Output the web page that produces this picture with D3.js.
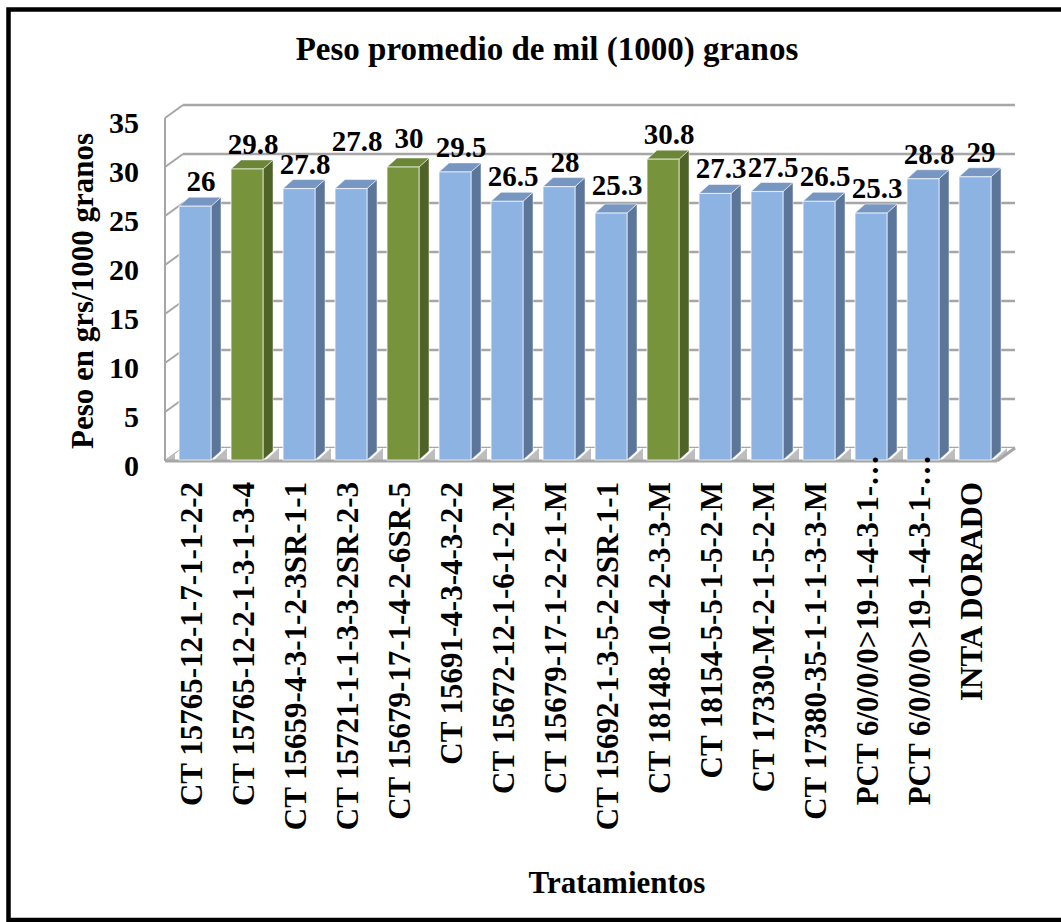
<!DOCTYPE html>
<html>
<head>
<meta charset="utf-8">
<script src="https://cdn.jsdelivr.net/npm/d3@7"></script>
<style>
  html, body { margin: 0; padding: 0; background: #fff; }
</style>
</head>
<body>
<script>
// Treatments (lines) on the category axis
const categories = [
  "CT 15765-12-1-7-1-1-2-2",
  "CT 15765-12-2-1-3-1-3-4",
  "CT 15659-4-3-1-2-3SR-1-1",
  "CT 15721-1-1-3-3-2SR-2-3",
  "CT 15679-17-1-4-2-6SR-5",
  "CT 15691-4-3-4-3-2-2",
  "CT 15672-12-1-6-1-2-M",
  "CT 15679-17-1-2-2-1-M",
  "CT 15692-1-3-5-2-2SR-1-1",
  "CT 18148-10-4-2-3-3-M",
  "CT 18154-5-5-1-5-2-M",
  "CT 17330-M-2-1-5-2-M",
  "CT 17380-35-1-1-1-3-3-M",
  "PCT 6/0/0/0>19-1-4-3-1-\u2026",
  "PCT 6/0/0/0>19-1-4-3-1-\u2026",
  "INTA DORADO"
];
// Average weight of 1000 grains (g)
const values = [26, 29.8, 27.8, 27.8, 30, 29.5, 26.5, 28, 25.3, 30.8, 27.3, 27.5, 26.5, 25.3, 28.8, 29];
// Highlighted lines (heaviest grains) drawn in green
const groups = ["base", "top", "base", "base", "top", "base", "base", "base", "base", "top", "base", "base", "base", "base", "base", "base"];
const yTicks = [0, 5, 10, 15, 20, 25, 30, 35];

const title = "Peso promedio de mil (1000) granos";
const yTitle = "Peso en grs/1000 granos";
const xTitle = "Tratamientos";

const FONT = "Liberation Serif";

const W = 1061, H = 922;
const svg = d3.select("body").append("svg")
  .attr("width", W).attr("height", H)
  .style("display", "block");

svg.append("rect").attr("width", W).attr("height", H).attr("fill", "#fff");

// Chart frame
svg.append("rect")
  .attr("x", 8.5).attr("y", 9.5)
  .attr("width", 1200).attr("height", 910.5)
  .attr("fill", "none").attr("stroke", "#000").attr("stroke-width", 4.5);

// Scales (front plane of the 3D box); two lines share a name, so bands are keyed by index
const idx = d3.range(categories.length);
const x = d3.scaleBand().domain(idx).range([165, 997]);
const y = d3.scaleLinear().domain([0, 35]).range([461, 118]);

// Depth of the walls and of the columns
const wallDx = 18, wallDy = 13;
const barDx = 10, barDy = 9;
const barOffset = x.step() * 0.27;
const barW = x.bandwidth() * 0.615;
const barBase = y(0) - 1;

const gridColor = "#A6A6A6";
const x0 = x.range()[0], x1 = x.range()[1];
const pts = arr => arr.map(p => p.join(",")).join(" ");

// Back wall gridlines
svg.append("g").selectAll("line").data(yTicks).join("line")
  .attr("x1", x0 + wallDx).attr("x2", x1 + wallDx)
  .attr("y1", d => y(d) - wallDy).attr("y2", d => y(d) - wallDy)
  .attr("stroke", gridColor).attr("stroke-width", 2.5);

// Side wall gridlines
svg.append("g").selectAll("line").data(yTicks).join("line")
  .attr("x1", x0).attr("x2", x0 + wallDx)
  .attr("y1", d => y(d)).attr("y2", d => y(d) - wallDy)
  .attr("stroke", gridColor).attr("stroke-width", 2);

// Value axis edge
svg.append("line")
  .attr("x1", x0).attr("x2", x0)
  .attr("y1", y(35)).attr("y2", y(0))
  .attr("stroke", gridColor).attr("stroke-width", 2);

// Floor
const floorPts = [[x0, y(0)], [x1, y(0)], [x1 + wallDx, y(0) - wallDy], [x0 + wallDx, y(0) - wallDy]];
svg.append("clipPath").attr("id", "floorClip")
  .append("polygon").attr("points", pts(floorPts));
svg.append("polygon").attr("points", pts(floorPts)).attr("fill", "#fff");

// Floor shading beside each column
const shadowIdx = d3.range(-1, categories.length);
svg.append("g").attr("clip-path", "url(#floorClip)")
  .selectAll("polygon").data(shadowIdx).join("polygon")
  .attr("points", i => {
    const bx = x0 + barOffset + i * x.step();
    const a = bx + barW + 1;
    const b = bx + barW + 16;
    return pts([[a, barBase + 2], [b, barBase - 12], [b, barBase + 2]]);
  })
  .attr("fill", "#BDBDBD");

svg.append("line")
  .attr("x1", x0).attr("x2", x1).attr("y1", y(0)).attr("y2", y(0))
  .attr("stroke", gridColor).attr("stroke-width", 3);
svg.append("line")
  .attr("x1", x1).attr("x2", x1 + wallDx).attr("y1", y(0)).attr("y2", y(0) - wallDy)
  .attr("stroke", gridColor).attr("stroke-width", 3);

// Column colours
const palette = {
  base: { front: "#8DB3E2", side: "#5B7699", top: "#7797C2" },
  top:  { front: "#77933C", side: "#4F6228", top: "#6A8636" }
};

const data = idx.map(i => ({ i, c: categories[i], v: values[i], g: groups[i] }));

const bars = svg.append("g").selectAll("g").data(data).join("g");

bars.append("polygon")
  .attr("points", d => {
    const bx = x(d.i) + barOffset, yt = y(d.v);
    return pts([[bx + barW, yt], [bx + barW + barDx, yt - barDy], [bx + barW + barDx, barBase - barDy], [bx + barW, barBase]]);
  })
  .attr("fill", d => palette[d.g].side)
  .attr("stroke", "#fff").attr("stroke-opacity", 0.5).attr("stroke-width", 1);

bars.append("polygon")
  .attr("points", d => {
    const bx = x(d.i) + barOffset, yt = y(d.v);
    return pts([[bx, yt], [bx + barDx, yt - barDy], [bx + barW + barDx, yt - barDy], [bx + barW, yt]]);
  })
  .attr("fill", d => palette[d.g].top)
  .attr("stroke", "#fff").attr("stroke-opacity", 0.5).attr("stroke-width", 1);

bars.append("rect")
  .attr("x", d => x(d.i) + barOffset)
  .attr("y", d => y(d.v))
  .attr("width", barW)
  .attr("height", d => barBase - y(d.v))
  .attr("fill", d => palette[d.g].front)
  .attr("stroke", "#fff").attr("stroke-opacity", 0.6).attr("stroke-width", 1.2);

const txt = sel => sel.attr("font-family", FONT).attr("font-weight", "bold").attr("fill", "#000");

// Value labels; a few are lifted so neighbouring labels do not collide
const labelLift = { 3: 23, 4: 4, 8: 3 };
svg.append("g").selectAll("text").data(data).join("text")
  .call(txt)
  .attr("x", d => x(d.i) + barOffset + (barW + barDx) / 2 + 1)
  .attr("y", d => y(d.v) - barDy - 6 - (labelLift[d.i] || 0))
  .attr("text-anchor", "middle")
  .attr("font-size", 29)
  .text(d => d.v);

// Value axis tick labels
svg.append("g").selectAll("text").data(yTicks).join("text")
  .call(txt)
  .attr("x", 139)
  .attr("y", d => y(d) + 4)
  .attr("text-anchor", "end")
  .attr("dominant-baseline", "central")
  .attr("font-size", 30)
  .text(d => d);

// Category labels (vertical)
svg.append("g").selectAll("text").data(data).join("text")
  .call(txt)
  .attr("transform", d => {
    const cx = x(d.i) + x.bandwidth() / 2 + 1 + 10;
    const yEnd = d.c.endsWith("\u2026") ? 455 : 482;
    return `translate(${cx},${yEnd}) rotate(-90)`;
  })
  .attr("text-anchor", "end")
  .attr("font-size", 31)
  .text(d => d.c);

// Titles
svg.append("text").call(txt)
  .attr("x", 547).attr("y", 60)
  .attr("text-anchor", "middle")
  .attr("font-size", 33)
  .text(title);

svg.append("text").call(txt)
  .attr("transform", "translate(93,291) rotate(-90)")
  .attr("text-anchor", "middle")
  .attr("font-size", 31)
  .text(yTitle);

svg.append("text").call(txt)
  .attr("x", 617).attr("y", 893)
  .attr("text-anchor", "middle")
  .attr("font-size", 31)
  .text(xTitle);
</script>
</body>
</html>
